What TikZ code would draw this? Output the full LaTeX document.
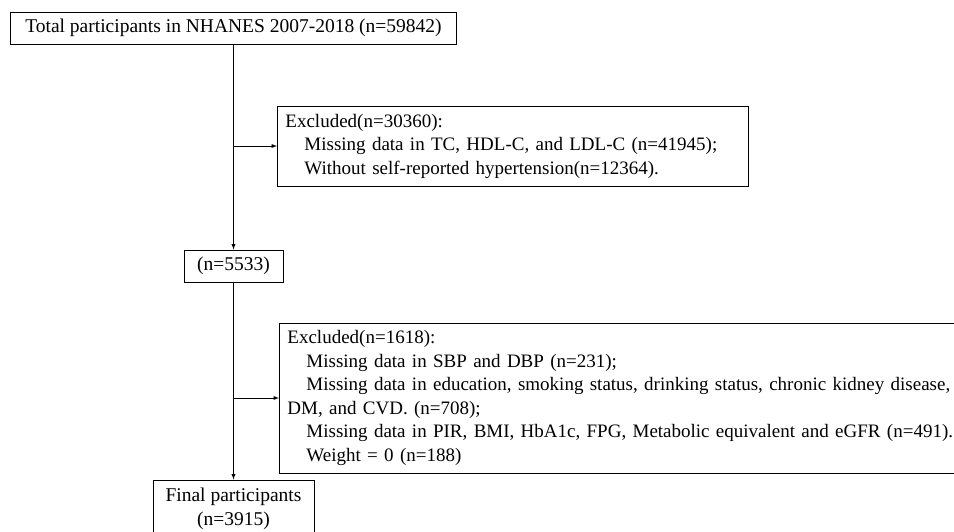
\documentclass[tikz,border=0pt]{standalone}
\usepackage{fontspec}
\setmainfont{Liberation Serif}
\usetikzlibrary{positioning,calc,arrows}

\tikzset{
  box/.style={draw,inner sep=0pt,font=\fontsize{19.5}{23.5}\selectfont},
  exclbox/.style={box,anchor=west,align=left,inner xsep=8pt,font=\fontsize{19}{23.5}\selectfont},
}
\newcommand{\ind}{\hspace*{19pt}}

\begin{document}
\begin{tikzpicture}[x=1pt,y=-1pt,>=latex,line width=0.9pt]
\clip (0,0) rectangle (954,531);

\node[box,minimum width=446,minimum height=32](total) at (233.5,28) {Total participants in NHANES 2007-2018 (n=59842)};
\node[exclbox,text width=455,minimum height=80](excl1) at (277,146) {Excluded(n=30360):\\
\ind Missing data in TC, HDL-C, and LDL-C (n=41945);\\
\ind Without self-reported hypertension(n=12364).};
\node[box,minimum width=99,minimum height=32](n5533) at (233.5,266) {(n=5533)};
\node[exclbox,text width=700,minimum height=150](excl2) at (279,398) {Excluded(n=1618):\\
\ind Missing data in SBP and DBP (n=231);\\
\ind Missing data in education, smoking status, drinking status, chronic kidney disease,\\
DM, and CVD. (n=708);\\
\ind Missing data in PIR, BMI, HbA1c, FPG, Metabolic equivalent and eGFR (n=491).\\
\ind Weight = 0 (n=188)};
\node[box,align=center,minimum width=161,minimum height=58](final) at (233.5,509) {Final participants\\(n=3915)};

\coordinate (b1) at (total.south |- excl1.west);
\coordinate (b2) at (n5533.south |- excl2.west);

\draw[->](total.south)--(n5533.north);
\draw[->](n5533.south)--(final.north);
\foreach \x/\y in {b1/excl1,b2/excl2}
	\draw[->](\x)--(\y.west);

\end{tikzpicture}
\end{document}
